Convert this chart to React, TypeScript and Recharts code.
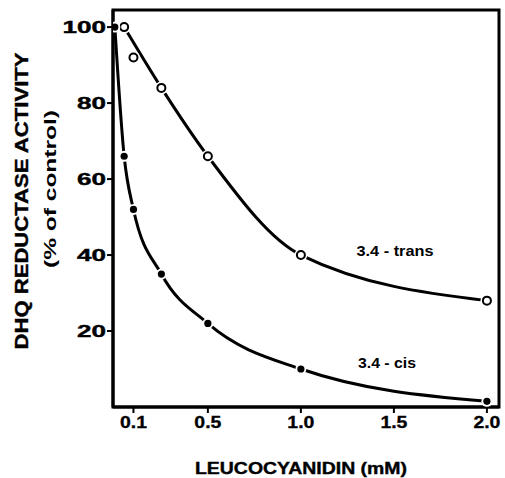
import { LineChart, Line, XAxis, YAxis, ReferenceArea, Customized } from "recharts";

// LEUCOCYANIDIN concentration (mM) vs DHQ reductase activity (% of control)
const transConc = [0.05, 0.1, 0.25, 0.5, 1.0, 2.0];
const transActivity = [100, 92, 84, 66, 40, 28];
// the drawn trans curve is a hand-fitted line that misses the 0.1 mM point
const transCurveConc = [0.05, 0.25, 0.5, 1.0, 2.0];
const transCurveActivity = [100, 84, 66, 40, 28];
const cisConc = [0, 0.05, 0.1, 0.25, 0.5, 1.0, 2.0];
const cisActivity = [100, 66, 52, 35, 22, 10, 1.5];
const xTicks = [0.1, 0.5, 1.0, 1.5, 2.0];
const yTicks = [20, 40, 60, 80, 100];

const X_DOMAIN: [number, number] = [-0.01, 2.065];
const Y_DOMAIN: [number, number] = [0, 104.5];

const transData = transConc.map((x, i) => ({ x, y: transActivity[i] }));
const transCurve = transCurveConc.map((x, i) => ({ x, y: transCurveActivity[i] }));
const cisData = cisConc.map((x, i) => ({ x, y: cisActivity[i] }));

const FONT = "'Liberation Sans', Arial, sans-serif";

function OpenDot(props: any) {
  const { cx, cy } = props;
  if (cx == null || cy == null) return null;
  return (
    <g>
      <circle cx={cx} cy={cy} r={6.5} fill="#fff" />
      <circle cx={cx} cy={cy} r={4} fill="#fff" stroke="#000" strokeWidth={2} />
    </g>
  );
}

function FilledDot(props: any) {
  const { cx, cy } = props;
  if (cx == null || cy == null) return null;
  return (
    <g>
      <circle cx={cx} cy={cy} r={5.5} fill="#fff" />
      <circle cx={cx} cy={cy} r={3.6} fill="#000" />
    </g>
  );
}

function YTick({ x, y, payload }: any) {
  const s = String(payload.value);
  return (
    <text
      x={x}
      y={y}
      dy={6}
      textAnchor="end"
      fontFamily={FONT}
      fontWeight={700}
      fontSize={17}
      fill="#000"
      stroke="#000"
      strokeWidth={0.4}
      textLength={s.length * 14.5}
      lengthAdjust="spacingAndGlyphs"
    >
      {s}
    </text>
  );
}

function XTick({ x, y, payload }: any) {
  const s = Number(payload.value).toFixed(1);
  return (
    <text
      x={x}
      y={y}
      dy={13}
      textAnchor="middle"
      fontFamily={FONT}
      fontWeight={700}
      fontSize={16}
      fill="#000"
      stroke="#000"
      strokeWidth={0.3}
      textLength={27}
      lengthAdjust="spacingAndGlyphs"
    >
      {s}
    </text>
  );
}

function Annotations() {
  const common = {
    fontFamily: FONT,
    fontWeight: 700,
    fill: "#000",
    lengthAdjust: "spacingAndGlyphs" as const,
  };
  return (
    <g>
      <text {...common} x={395} y={256} fontSize={15} textAnchor="middle" textLength={77}>
        3.4 - trans
      </text>
      <text {...common} x={387} y={368} fontSize={15} textAnchor="middle" textLength={58}>
        3.4 - cis
      </text>
      <text
        {...common}
        x={301}
        y={474}
        fontSize={17}
        textAnchor="middle"
        textLength={212}
        stroke="#000"
        strokeWidth={0.4}
      >
        LEUCOCYANIDIN (mM)
      </text>
      <text
        {...common}
        x={0}
        y={0}
        fontSize={18}
        textAnchor="middle"
        textLength={297}
        stroke="#000"
        strokeWidth={0.4}
        transform="translate(28 201) rotate(-90)"
      >
        DHQ REDUCTASE ACTIVITY
      </text>
      <text
        {...common}
        x={0}
        y={0}
        fontSize={16}
        textAnchor="middle"
        textLength={158}
        transform="translate(56 189) rotate(-90)"
      >
        (% of control)
      </text>
    </g>
  );
}

export default function App() {
  return (
    <div style={{ position: "absolute", left: 0, top: 0, width: 505, height: 478, background: "#fff" }}>
      <LineChart width={505} height={478} margin={{ top: 10, right: 6, bottom: 0, left: 0 }}>
        <XAxis
          type="number"
          dataKey="x"
          domain={X_DOMAIN}
          ticks={xTicks}
          allowDataOverflow
          height={71}
          axisLine={{ stroke: "#000", strokeWidth: 3 }}
          tickLine={{ stroke: "#000", strokeWidth: 2 }}
          tickSize={6}
          tickMargin={2}
          tick={<XTick />}
        />
        <YAxis
          type="number"
          dataKey="y"
          domain={Y_DOMAIN}
          ticks={yTicks}
          allowDataOverflow
          width={113}
          axisLine={{ stroke: "#000", strokeWidth: 3 }}
          tickLine={{ stroke: "#000", strokeWidth: 2 }}
          tickSize={6}
          tickMargin={1}
          tick={<YTick />}
        />
        <ReferenceArea
          x1={X_DOMAIN[0]}
          x2={X_DOMAIN[1]}
          y1={Y_DOMAIN[0]}
          y2={Y_DOMAIN[1]}
          fill="none"
          fillOpacity={0}
          stroke="#000"
          strokeWidth={3}
        />
        <Line
          data={transCurve}
          dataKey="y"
          type="monotone"
          stroke="#000"
          strokeWidth={3}
          dot={false}
          activeDot={false}
          isAnimationActive={false}
        />
        <Line
          data={transData}
          dataKey="y"
          stroke="none"
          dot={<OpenDot />}
          activeDot={false}
          isAnimationActive={false}
        />
        <Line
          data={cisData}
          dataKey="y"
          type="monotone"
          stroke="#000"
          strokeWidth={3}
          dot={<FilledDot />}
          activeDot={false}
          isAnimationActive={false}
        />
        <Customized component={Annotations} />
      </LineChart>
    </div>
  );
}
